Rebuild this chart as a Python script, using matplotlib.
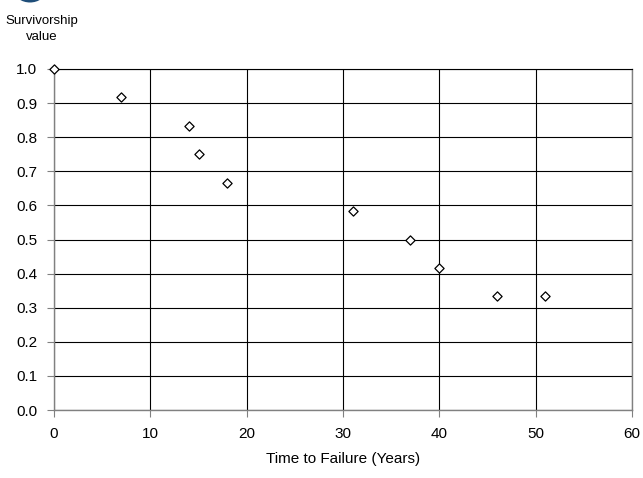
import matplotlib
matplotlib.use("Agg")
import matplotlib.pyplot as plt
from matplotlib.patches import Circle

plt.rcParams['font.family'] = ['Liberation Sans', 'DejaVu Sans']

time_years = [0, 7, 14, 15, 18, 31, 37, 40, 46, 51]
survivorship = [1.0, 0.917, 0.833, 0.75, 0.667, 0.583, 0.5, 0.417, 0.333, 0.333]
x_ticks = [0, 10, 20, 30, 40, 50, 60]
y_ticks = [0.0, 0.1, 0.2, 0.3, 0.4, 0.5, 0.6, 0.7, 0.8, 0.9, 1.0]

fig = plt.figure(figsize=(6.43, 4.78), dpi=100)
ax = fig.add_axes([54/643, 68/478, (632-54)/643, (410-69)/478])

ax.scatter(time_years, survivorship, marker='D', s=22, facecolor='white',
           edgecolor='black', linewidths=0.9, zorder=3, clip_on=False)

ax.set_xlim(0, 60)
ax.set_ylim(0, 1.0)
ax.set_xticks(x_ticks)
ax.set_yticks(y_ticks)
ax.set_xticklabels([str(v) for v in x_ticks])
ax.set_yticklabels([f"{v:.1f}" for v in y_ticks])
ax.grid(True, color='black', linewidth=0.8)
ax.set_axisbelow(True)
ax.tick_params(axis='both', direction='out', length=5, width=0.8, color='#808080',
               labelsize=11)
ax.tick_params(axis='y', pad=7)
ax.tick_params(axis='x', pad=7)
for side in ['left', 'bottom', 'right']:
    ax.spines[side].set_color('#808080')
    ax.spines[side].set_linewidth(1.0)
ax.spines['top'].set_color('black')
ax.spines['top'].set_linewidth(0.8)

ax.set_xlabel('Time to Failure (Years)', fontsize=11, labelpad=8)
fig.text(42/643, 1 - 29/478, 'Survivorship\nvalue', ha='center', va='center',
         fontsize=9.5, linespacing=1.45)

# partial badge circle at the top-left corner
circ = Circle((30/643, 1 - (-10)/478), 14/643, transform=fig.transFigure,
              fill=False, edgecolor='#1f4e79', linewidth=3, clip_on=False)
fig.patches.append(circ)

fig.savefig('out.png', dpi=100)
